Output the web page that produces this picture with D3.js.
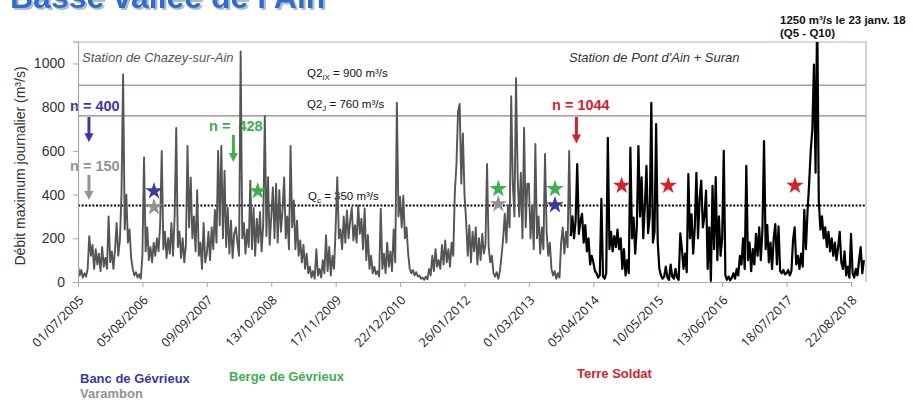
<!DOCTYPE html>
<html><head><meta charset="utf-8">
<script src="https://cdn.jsdelivr.net/npm/d3@7"></script>
<style>
html,body{margin:0;padding:0;background:#fff;}
svg{display:block;font-family:Arial,"Liberation Sans",sans-serif;}
</style></head><body>
<svg id="chart" width="913" height="401"></svg>
<script>
// Débit maximum journalier, one value every 10 days (m³/s)
const stepDays = 10;

// Station de Chazey-sur-Ain (grey trace)
const chazeyStart = "2005-07-01";
const chazeyFlow = [
  75, 30, 55, 20, 40, 25, 60, 210, 120, 170, 60, 150, 80, 130, 50, 160, 70, 110, 60, 300,
  90, 140, 60, 150, 270, 120, 190, 400, 950, 240, 400, 180, 240, 110, 60, 30, 45, 20, 35, 15,
  120, 570, 140, 250, 100, 160, 90, 180, 120, 200, 140, 260, 600, 150, 230, 110, 200, 130, 270, 120,
  300, 705, 160, 230, 110, 200, 90, 170, 623, 250, 478, 200, 300, 140, 420, 120, 180, 60, 270, 90,
  130, 230, 100, 250, 150, 330, 180, 600, 260, 622, 200, 509, 160, 340, 130, 280, 110, 220, 250, 180,
  120, 1055, 200, 270, 130, 240, 160, 464, 150, 340, 120, 290, 180, 320, 140, 260, 760, 210, 480, 170,
  300, 433, 200, 450, 180, 420, 230, 330, 478, 200, 300, 150, 622, 250, 373, 150, 280, 120, 190, 90,
  170, 60, 130, 40, 70, 20, 50, 15, 150, 30, 60, 20, 100, 40, 214, 50, 160, 30, 120, 60,
  250, 480, 200, 240, 150, 300, 180, 327, 200, 280, 340, 190, 260, 180, 350, 220, 290, 150, 336, 100,
  215, 60, 120, 40, 70, 35, 50, 25, 335, 60, 130, 40, 180, 70, 140, 50, 240, 90, 820, 300,
  390, 250, 395, 200, 250, 130, 60, 40, 55, 30, 45, 25, 30, 15, 20, 10, 25, 12, 60, 30,
  120, 50, 150, 70, 100, 60, 170, 80, 190, 90, 150, 70, 180, 120, 410, 540, 780, 815, 450, 680,
  400, 280, 120, 260, 90, 230, 140, 250, 80, 200, 100, 220, 130, 170, 540, 160, 90, 120, 40, 25,
  45, 15, 50, 120, 200, 312, 180, 350, 250, 850, 450, 300, 933, 480, 300, 500, 200, 706, 250, 450,
  450, 200, 350, 150, 632, 200, 300, 130, 250, 150, 586, 230, 120, 180, 60, 30, 50, 15, 40, 20,
  180, 250, 130, 230, 160, 600, 210
];

// Station de Pont d'Ain + Suran (black trace)
const pontAinStart = "2013-11-16";
const pontAinFlow = [
  210, 300, 200, 280, 540, 220, 280, 312, 180, 260, 140, 200, 80, 120,
  90, 50, 40, 20, 30, 380, 25, 15, 40, 660, 150, 230, 140, 210, 160, 240, 150, 200, 60, 150,
  30, 100, 40, 615, 200, 295, 130, 250, 622, 300, 479, 200, 350, 532, 223, 300, 820, 180, 230, 722,
  180, 60, 30, 15, 25, 70, 20, 10, 80, 25, 15, 60, 20, 10, 223, 150, 60, 130, 45, 494,
  200, 310, 130, 250, 500, 200, 380, 464, 250, 300, 418, 60, 250, 5, 440, 150, 480, 100, 300, 120,
  200, 600, 30, 10, 25, 8, 20, 40, 15, 60, 30, 120, 80, 200, 60, 532, 100, 180, 50, 150,
  80, 220, 120, 250, 100, 240, 645, 150, 260, 90, 180, 60, 200, 265, 80, 255, 50, 40, 55, 35,
  40, 55, 30, 50, 190, 250, 80, 120, 60, 130, 70, 330, 150, 320, 450, 600, 700, 995, 500, 1250,
  373, 240, 300, 200, 250, 160, 230, 140, 200, 120, 180, 100, 160, 230, 90, 60, 140, 30, 70, 20,
  220, 40, 20, 60, 30, 100, 160, 40, 100
];

const tickLabels = ["01/07/2005", "05/08/2006", "09/09/2007", "13/10/2008", "17/11/2009",
  "22/12/2010", "26/01/2012", "01/03/2013", "05/04/2014", "10/05/2015", "13/06/2016",
  "18/07/2017", "22/08/2018"];
const yTicks = [0, 200, 400, 600, 800, 1000];

// Reference discharges
const q2ix = 900, q2j = 760, qc = 350;

// Morphogenic flood events by site
const starSites  = ["Banc de Gévrieux", "Varambon", "Berge de Gévrieux", "Berge de Gévrieux", "Varambon",
                    "Berge de Gévrieux", "Banc de Gévrieux", "Terre Soldat", "Terre Soldat", "Terre Soldat"];
const starDates  = ["2006-10-16", "2006-10-16", "2008-07-21", "2012-08-23", "2012-08-23",
                    "2013-08-10", "2013-08-10", "2014-09-28", "2015-07-14", "2017-09-08"];
const starValues = [416, 343, 416, 426, 357, 426, 352, 441, 441, 441];

// Number of surveyed points per site
const countSites = ["Banc de Gévrieux", "Varambon", "Berge de Gévrieux", "Terre Soldat"];
const countValues = [400, 150, 428, 1044];

const siteColor = {
  "Banc de Gévrieux": "#3b38a3",
  "Varambon": "#939393",
  "Berge de Gévrieux": "#3fae4c",
  "Terre Soldat": "#d3222b"
};

const svg = d3.select("#chart");
const L = 78, R = 866, T = 42, B = 282;

const parseTick = d3.timeParse("%d/%m/%Y");
const parseIso = d3.timeParse("%Y-%m-%d");
const tickDates = tickLabels.map(parseTick);

const x = d3.scaleTime()
  .domain([tickDates[0], tickDates[tickDates.length - 1]])
  .range([L, 851]);
const y = d3.scaleLinear().domain([0, 1100]).range([B, 41.6]);

const toSeries = (start, vals) => {
  const s = parseIso(start);
  return vals.map((v, i) => ({ date: d3.timeDay.offset(s, i * stepDays), value: v }));
};
const chazey = toSeries(chazeyStart, chazeyFlow);
const pontAin = toSeries(pontAinStart, pontAinFlow);

// Title (partly above the frame), with a soft drop shadow
const defs = svg.append("defs");
defs.append("filter").attr("id", "titleShadow")
  .attr("x", "-5%").attr("y", "-20%").attr("width", "110%").attr("height", "140%")
  .append("feDropShadow").attr("dx", 2).attr("dy", 2).attr("stdDeviation", 0.6)
  .attr("flood-color", "#a9b3c4").attr("flood-opacity", 0.9);
svg.append("text").attr("x", 10).attr("y", 8)
  .attr("font-size", 32).attr("font-weight", "bold").attr("fill", "#2f6dd0")
  .attr("filter", "url(#titleShadow)")
  .text("Basse vallée de l'Ain");

// Frame
svg.append("path")
  .attr("d", `M${L},${T}H${R}V${B}`)
  .attr("fill", "none").attr("stroke", "#b9b3b3").attr("stroke-width", 1.2);

// Reference discharge lines
svg.append("line").attr("x1", L).attr("x2", R).attr("y1", y(q2ix)).attr("y2", y(q2ix))
  .attr("stroke", "#a9a1a0").attr("stroke-width", 1.6);
svg.append("line").attr("x1", L).attr("x2", R).attr("y1", y(q2j)).attr("y2", y(q2j))
  .attr("stroke", "#9c7f79").attr("stroke-width", 1.2);

// Reference labels
const refLabel = (xp, yp, main, sub, rest) => {
  const t = svg.append("text").attr("x", xp).attr("y", yp)
    .attr("font-size", 11.5).attr("fill", "#111");
  t.append("tspan").text(main);
  t.append("tspan").attr("font-size", 8).attr("dy", 3).text(sub);
  t.append("tspan").attr("dy", -3).text(rest);
};
refLabel(307, 77, "Q2", "IX", ` = ${q2ix} m³/s`);
refLabel(307, 108, "Q2", "J", ` = ${q2j} m³/s`);

// Station names
svg.append("text").attr("x", 82).attr("y", 62).attr("font-size", 13)
  .attr("font-style", "italic").attr("fill", "#555").text("Station de Chazey-sur-Ain");
svg.append("text").attr("x", 569).attr("y", 62).attr("font-size", 13)
  .attr("font-style", "italic").attr("fill", "#333").text("Station de Pont d'Ain + Suran");

// Counts and arrows
const arrow = (date, v0, v1, color) => {
  const xp = x(parseIso(date)), y0 = y(v0), y1 = y(v1);
  svg.append("line").attr("x1", xp).attr("x2", xp).attr("y1", y0).attr("y2", y1 - 7)
    .attr("stroke", color).attr("stroke-width", 3);
  svg.append("path").attr("d", `M${xp - 4.5},${y1 - 9}L${xp + 4.5},${y1 - 9}L${xp},${y1}Z`)
    .attr("fill", color);
};
const countText = (xp, yp, i, gap) => {
  svg.append("text").attr("x", xp).attr("y", yp)
    .attr("font-size", 14.5).attr("font-weight", "bold")
    .attr("fill", siteColor[countSites[i]]).style("white-space", "pre")
    .text(`n =${gap}${countValues[i]}`);
};
countText(70, 111, 0, " ");
arrow("2005-09-07", 755, 640, siteColor["Banc de Gévrieux"]);
countText(70, 171, 1, " ");
arrow("2005-09-07", 490, 375, siteColor["Varambon"]);
countText(209, 131, 2, "  ");
arrow("2008-02-21", 673, 549, siteColor["Berge de Gévrieux"]);
countText(552, 110, 3, " ");
arrow("2013-12-21", 755, 634, siteColor["Terre Soldat"]);

// Critical discharge
svg.append("line").attr("x1", L).attr("x2", R).attr("y1", y(qc)).attr("y2", y(qc))
  .attr("stroke", "#000").attr("stroke-width", 2).attr("stroke-dasharray", "2,1.6");
const qcT = svg.append("text").attr("x", 308).attr("y", 200).attr("font-size", 11.5).attr("fill", "#111");
qcT.append("tspan").text("Q");
qcT.append("tspan").attr("font-size", 8).attr("dy", 3).text("c");
qcT.append("tspan").attr("dy", -3).text(` = ${qc} m³/s`);

// Discharge traces
svg.append("clipPath").attr("id", "plotClip").append("rect")
  .attr("x", L).attr("y", T).attr("width", R - L).attr("height", B - T + 2);
const line = d3.line().x(d => x(d.date)).y(d => y(d.value));
const traces = svg.append("g").attr("clip-path", "url(#plotClip)");
traces.append("path").datum(chazey).attr("d", line)
  .attr("fill", "none").attr("stroke", "#555").attr("stroke-width", 1.9)
  .attr("stroke-linejoin", "round");
traces.append("path").datum(pontAin).attr("d", line)
  .attr("fill", "none").attr("stroke", "#000").attr("stroke-width", 2.2)
  .attr("stroke-linejoin", "round");

// Event stars
const star = d3.symbol().type(d3.symbolStar).size(95);
svg.append("g").selectAll("path").data(starSites).join("path")
  .attr("d", star)
  .attr("transform", (d, i) => `translate(${x(parseIso(starDates[i]))},${y(starValues[i])})`)
  .attr("fill", d => siteColor[d]);

// Axes
const yAxis = svg.append("g").attr("transform", `translate(${L},0)`)
  .call(d3.axisLeft(y).tickValues(yTicks).tickFormat(d3.format("d")).tickSize(5).tickPadding(8));
yAxis.select(".domain").attr("stroke", "#a8a8a8").attr("stroke-width", 1.2);
yAxis.selectAll(".tick line").attr("stroke", "#a8a8a8");
yAxis.selectAll("text").attr("font-size", 14).attr("fill", "#333")
  .attr("font-family", "Arial, 'Liberation Sans', sans-serif");

const xAxis = svg.append("g").attr("transform", `translate(0,${B})`)
  .call(d3.axisBottom(x).tickValues(tickDates).tickFormat(d3.timeFormat("%d/%m/%Y")).tickSize(5));
xAxis.select(".domain").attr("stroke", "#a8a8a8").attr("stroke-width", 1.2);
xAxis.selectAll(".tick line").attr("stroke", "#a8a8a8");
xAxis.selectAll("text")
  .attr("x", 0).attr("y", 0).attr("dy", 0)
  .attr("text-anchor", "end")
  .attr("transform", "translate(6,19) rotate(-45)")
  .attr("font-size", 12.5).attr("fill", "#222")
  .attr("font-family", "'Open Sans', sans-serif");

svg.append("text")
  .attr("transform", `translate(25,${(T + B) / 2 + 4}) rotate(-90)`)
  .attr("text-anchor", "middle").attr("font-size", 14).attr("fill", "#333")
  .text("Débit maximum journalier (m³/s)");

// Peak annotation
const peakValue = d3.max(pontAinFlow);
svg.append("text").attr("x", 780).attr("y", 24).attr("font-size", 11.5)
  .attr("font-weight", "bold").attr("fill", "#111")
  .text(`${peakValue} m³/s le 23 janv. 18`);
svg.append("text").attr("x", 780).attr("y", 37).attr("font-size", 11.5)
  .attr("font-weight", "bold").attr("fill", "#111")
  .text("(Q5 - Q10)");

// Site legend
const legend = [
  ["Banc de Gévrieux", 80, 383],
  ["Varambon", 80, 398],
  ["Berge de Gévrieux", 229, 381],
  ["Terre Soldat", 577, 378]
];
svg.append("g").selectAll("text").data(legend).join("text")
  .attr("x", d => d[1]).attr("y", d => d[2])
  .attr("font-size", 13).attr("font-weight", "bold")
  .attr("fill", d => siteColor[d[0]])
  .text(d => d[0]);
</script>
</body></html>
